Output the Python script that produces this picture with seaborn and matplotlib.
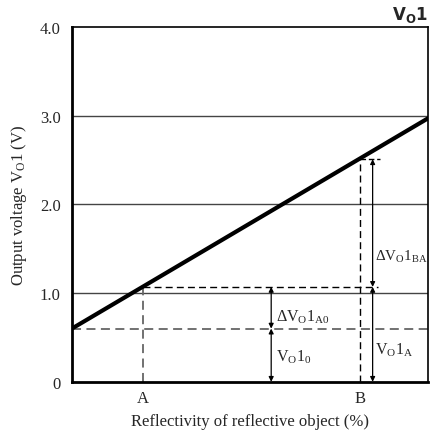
import pandas as pd
import matplotlib
matplotlib.use('Agg')
import matplotlib.pyplot as plt
import seaborn as sns

# Chart data
reflectivity = [0, 100]
vout = [0.6, 2.97]
x_a, x_b = 20, 81
v0, va, vb = 0.6, 1.07, 2.51
arrow_x1, arrow_x2 = 56, 84.5
y_ticks = [0, 1.0, 2.0, 3.0, 4.0]
y_labels = ['0', '1.0', '2.0', '3.0', '4.0']
x_tick_labels = ['A', 'B']

sns.set_style('white')
plt.rcParams['font.family'] = ['Liberation Serif', 'DejaVu Serif']
plt.rcParams['mathtext.fontset'] = 'custom'
plt.rcParams['mathtext.rm'] = 'Liberation Serif'
plt.rcParams['mathtext.it'] = 'Liberation Serif:italic'

df = pd.DataFrame({'reflectivity': reflectivity, 'vout': vout})

fig = plt.figure(figsize=(4.33, 4.39), dpi=100)
ax = fig.add_axes([0.166, 0.128, 0.822, 0.808])

# grid lines
for y in y_ticks[1:4]:
    ax.axhline(y, color='#444444', lw=1.0, zorder=1)

# dashed guides
ax.axhline(v0, color='#666666', lw=1.3, ls=(0, (5, 3)), zorder=2)
ax.plot([x_a, x_a], [0, va], color='#666666', lw=1.3, ls=(0, (5, 3)), zorder=2)
ax.plot([x_a, 86], [va, va], color='black', lw=1.0, ls=(0, (5, 3)), zorder=2)
ax.plot([x_b, x_b], [0, vb], color='black', lw=1.0, ls=(0, (5, 3)), zorder=2)
ax.plot([x_b, 86.5], [vb, vb], color='black', lw=1.0, ls=(0, (4, 2)), zorder=2)

sns.lineplot(data=df, x='reflectivity', y='vout', color='black', lw=3, ax=ax, zorder=3)

# dimension arrows
def dim(x, y1, y2):
    ax.annotate('', xy=(x, y2), xytext=(x, y1),
                arrowprops=dict(arrowstyle='<|-|>', color='black', lw=0.9,
                                mutation_scale=7, shrinkA=0, shrinkB=0))

dim(arrow_x1, 0, v0)
dim(arrow_x1, v0, va)
dim(arrow_x2, 0, va)
dim(arrow_x2, va, vb)

fs = 11.5
ax.text(arrow_x1 + 1.3, 0.74, r'$\Delta\mathrm{V_O1_{A0}}$', fontsize=fs, va='center')
ax.text(arrow_x1 + 1.3, 0.29, r'$\mathrm{V_O1_0}$', fontsize=fs, va='center')
ax.text(arrow_x2 + 0.8, 0.37, r'$\mathrm{V_O1_A}$', fontsize=fs, va='center')
ax.text(arrow_x2 + 0.7, 1.42, r'$\Delta\mathrm{V_O1_{BA}}$', fontsize=10.8, va='center')

ax.set_xlim(0, 100)
ax.set_ylim(0, 4)
ax.set_yticks(y_ticks)
ax.set_yticklabels(y_labels, fontsize=12)
ax.set_xticks([x_a, x_b])
ax.set_xticklabels(x_tick_labels, fontsize=12)
ax.tick_params(axis='y', length=0, pad=8)
ax.tick_params(axis='x', length=0, pad=6)
ax.set_xlabel('Reflectivity of reflective object (%)', fontsize=12, va='center')
ax.xaxis.set_label_coords(0.5, -0.11)
ax.set_ylabel(r'Output voltage $\mathrm{V_O}$1 (V)', fontsize=12, labelpad=8)

for side in ['left', 'bottom']:
    ax.spines[side].set_linewidth(2)
for side in ['top', 'right']:
    ax.spines[side].set_linewidth(1.2)
for s in ax.spines.values():
    s.set_color('black')

ax.text(1.0, 1.008, r'$\mathbf{V_O1}$', transform=ax.transAxes, ha='right', va='bottom',
        fontsize=12, family=['DejaVu Sans'], math_fontfamily='dejavusans')

fig.savefig('out.png', dpi=100)
